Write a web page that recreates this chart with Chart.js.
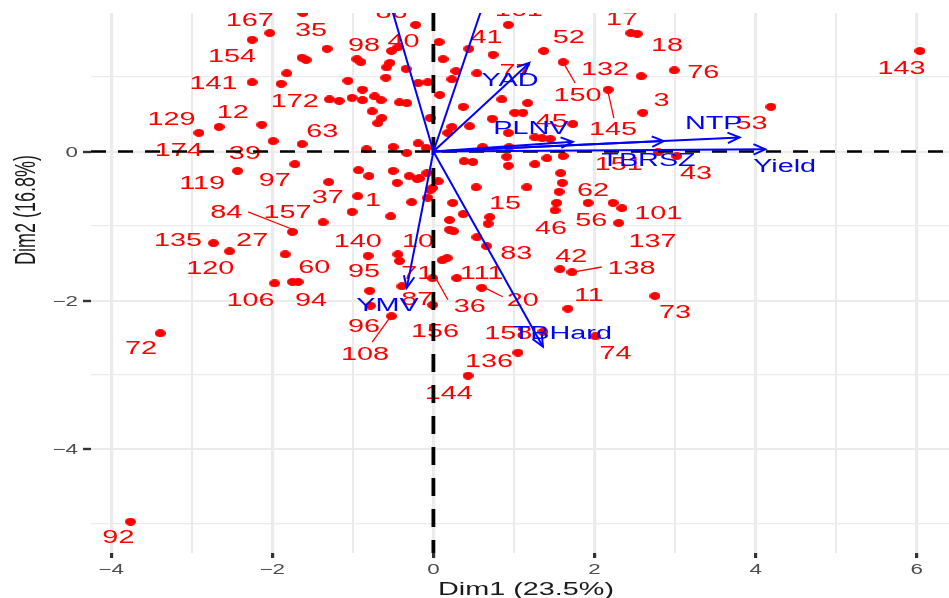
<!DOCTYPE html>
<html>
<head>
<meta charset="utf-8">
<script src="https://cdn.jsdelivr.net/npm/chart.js@4.4.0/dist/chart.umd.min.js"></script>
<style>
html,body{margin:0;padding:0;background:#fff;}
#wrap{width:949px;height:598px;position:relative;}
</style>
</head>
<body>
<div id="wrap"><canvas id="c"></canvas></div>
<script>
// ---------------- DATA ----------------
const pointDim1 = [-1.62,-2.03,-2.25,-1.32,-1.63,-1.58,-1.82,-2.25,-1.89,-1.29,-1.17,-2.91,-2.66,-2.13,-1.99,-1.63,-2.43,-1.72,
  -0.22,0.93,0.07,0.44,0.12,0.74,1.37,1.61,-0.52,-0.44,-0.95,-0.90,-0.54,-0.58,-0.34,0.28,0.54,-1.06,-0.59,-0.19,-0.07,0.23,0.08,
  -1.01,-0.88,-0.88,-0.73,-0.65,-0.76,-0.42,-0.33,-0.64,-0.69,-0.04,0.37,0.23,0.45,0.85,1.17,1.01,1.11,0.73,0.93,1.26,1.35,1.45,
  1.73,2.17,2.60,0.18,0.61,0.94,1.41,1.61,0.38,0.49,0.91,0.93,1.26,1.58,1.60,1.56,1.53,1.51,1.16,0.53,1.92,2.23,2.34,2.30,0.24,
  0.37,0.70,0.68,0.20,0.20,0.25,0.54,-0.08,0.06,-0.04,-0.07,-0.17,-0.83,-0.50,-0.33,-0.19,-0.09,-0.93,-0.80,-0.50,-0.45,-0.30,
  -0.20,-1.30,-0.94,-1.01,-1.37,-0.53,-0.27,-1.75,-2.73,-2.53,-1.84,-1.97,-1.75,-1.68,-0.81,-0.44,-0.42,-0.79,-0.39,-0.52,-0.01,
  -0.01,-0.78,0.11,0.17,0.29,0.60,0.66,1.57,1.72,1.67,1.36,2.01,1.05,0.43,-3.76,-3.39,2.45,2.53,2.58,2.99,4.19,6.04,3.02,2.79,
  2.75,-0.01];
const pointDim2 = [1.86,1.59,1.50,1.38,1.26,1.23,1.05,0.93,0.91,0.70,0.68,0.25,0.33,0.36,0.14,0.10,-0.26,-0.17,
  1.70,1.70,1.47,1.38,1.24,1.30,1.35,1.20,1.35,1.40,1.24,1.20,1.19,1.13,1.11,1.08,1.05,0.95,0.99,0.92,0.93,0.97,0.76,
  0.72,0.83,0.69,0.74,0.69,0.54,0.66,0.65,0.45,0.38,0.45,0.60,0.33,0.34,0.70,0.65,0.52,0.52,0.44,0.25,0.19,0.18,0.17,
  0.37,0.83,0.52,0.25,0.06,0.06,-0.09,-0.06,-0.13,-0.14,-0.07,-0.19,-0.17,-0.29,-0.42,-0.54,-0.69,-0.79,-0.48,-0.48,-0.69,-0.69,-0.76,-0.96,-0.69,
  -0.84,-0.88,-0.97,-0.92,-1.05,-1.07,-1.15,-0.29,-0.40,-0.52,-0.62,-0.36,0.03,0.06,-0.02,0.11,0.05,-0.25,-0.33,-0.26,-0.42,-0.33,
  -0.37,-0.41,-0.60,-0.81,-0.95,-0.87,-0.68,-1.08,-1.23,-1.34,-1.38,-1.77,-1.75,-1.75,-1.40,-1.38,-1.47,-1.87,-1.81,-2.21,-1.70,
  -2.06,-2.07,-1.46,-1.43,-1.70,-1.83,-1.27,-1.58,-1.62,-2.11,-2.42,-2.48,-2.70,-3.01,-4.97,-2.44,1.59,1.58,1.01,1.09,0.60,1.35,-0.06,-0.01,
  -1.94,-0.49];

const labelNames = ["167","35","154","141","172","129","12","174","39","63","119","97","37","1","84","157","135","27","120","60",
  "106","94","140","95","10","71","87","96","108","156","36","111","20","15","83","46","56","62","42","138","11","101","137","73",
  "74","158","136","144","92","72","143","53","43","151","3","76","18","17","132","52","150","145","45","77","41","40","98","86","161"];
const labelDim1 = [-2.28,-1.52,-2.50,-2.73,-1.72,-3.25,-2.49,-3.16,-2.34,-1.38,-2.87,-1.97,-1.31,-0.75,-2.57,-1.81,-3.17,-2.25,-2.77,-1.48,
  -2.27,-1.52,-0.94,-0.86,-0.19,-0.20,-0.20,-0.86,-0.85,0.02,0.45,0.60,1.11,0.89,1.03,1.46,1.96,1.98,1.71,2.46,1.93,2.79,2.72,3.00,
  2.26,0.93,0.69,0.19,-3.91,-3.63,5.81,3.95,3.26,2.30,2.83,3.35,2.90,2.34,2.13,1.68,1.79,2.23,1.47,1.02,0.66,-0.37,-0.86,-0.52,1.06];
const labelDim2 = [1.77,1.64,1.29,0.93,0.68,0.44,0.54,0.03,-0.01,0.28,-0.42,-0.38,-0.60,-0.65,-0.81,-0.81,-1.18,-1.18,-1.56,-1.55,
  -1.99,-1.99,-1.19,-1.60,-1.19,-1.62,-1.98,-2.34,-2.71,-2.40,-2.07,-1.62,-1.99,-0.68,-1.36,-1.02,-0.91,-0.51,-1.40,-1.56,-1.92,-0.82,-1.19,-2.15,
  -2.70,-2.43,-2.81,-3.23,-5.17,-2.63,1.13,0.39,-0.28,-0.16,0.70,1.08,1.44,1.78,1.11,1.55,0.77,0.31,0.41,1.09,1.55,1.49,1.44,1.88,1.90];

// leader segments from a label to its point
const leaderFromDim1 = [-2.30, 1.63, 2.17, 0.04, 0.64, -0.54, 1.73];
const leaderFromDim2 = [-0.81, 1.16, 0.79, -1.72, -1.83, -2.23, -1.62];
const leaderToDim1   = [-1.76, 1.76, 2.24, 0.18, 0.86, -0.76, 2.09];
const leaderToDim2   = [-1.04, 0.92, 0.45, -1.99, -1.95, -2.56, -1.55];

const variableNames = ["Yield","NTP","TBRSZ","PLNV","YAD","YMV","TBHard","",""];
const variableDim1 = [4.12, 3.80, 2.86, 1.73, 1.19, -0.33, 1.36, 0.72, -0.62];
const variableDim2 = [0.03, 0.19, 0.14, 0.13, 1.19, -1.83, -2.62, 2.30, 2.30];
const variableLabelDim1 = [4.36, 3.48, 2.67, 1.21, 0.95, -0.57, 1.60, null, null];
const variableLabelDim2 = [-0.19, 0.39, -0.11, 0.32, 0.96, -2.05, -2.43, null, null];

const xTickValues = [-4, -2, 0, 2, 4, 6];
const yTickValues = [-4, -2, 0];
const xAxisTitle = "Dim1 (23.5%)";
const yAxisTitle = "Dim2 (16.8%)";

// ---------------- STYLE ----------------
const SX = 1.6;              // horizontal stretch of text in the reference
const FONT = '"Liberation Sans", Arial, sans-serif';
const RED = '#FF0000', BLUE = '#0000FF';

function makeDot() {
  const c = document.createElement('canvas');
  c.width = 11; c.height = 8;
  const g = c.getContext('2d');
  g.fillStyle = RED;
  g.beginPath(); g.ellipse(5.5, 4, 5.5, 4, 0, 0, Math.PI * 2); g.fill();
  return c;
}

function stretchedText(ctx, text, x, y, size, color, align) {
  ctx.save();
  ctx.translate(x, y);
  ctx.scale(SX, 1);
  ctx.font = size + 'px ' + FONT;
  ctx.fillStyle = color;
  ctx.textAlign = align;
  ctx.textBaseline = 'alphabetic';
  ctx.fillText(text, 0, size * 0.716 / 2);
  ctx.restore();
}

function clipArea(ctx, ca) {
  ctx.beginPath(); ctx.rect(ca.left, ca.top, ca.right - ca.left, ca.bottom - ca.top); ctx.clip();
}

const biplot = {
  id: 'biplot',
  afterDatasetDraw(chart, args) {
    if (args.index !== 0) return;
    const ctx = chart.ctx, xs = chart.scales.x, ys = chart.scales.y, ca = chart.chartArea;
    ctx.save();
    clipArea(ctx, ca);
    // leader segments
    ctx.strokeStyle = RED; ctx.lineWidth = 1.3;
    for (let i = 0; i < leaderFromDim1.length; i++) {
      ctx.beginPath();
      ctx.moveTo(xs.getPixelForValue(leaderFromDim1[i]), ys.getPixelForValue(leaderFromDim2[i]));
      ctx.lineTo(xs.getPixelForValue(leaderToDim1[i]), ys.getPixelForValue(leaderToDim2[i]));
      ctx.stroke();
    }
    // individual labels
    for (let i = 0; i < labelNames.length; i++) {
      stretchedText(ctx, labelNames[i], xs.getPixelForValue(labelDim1[i]), ys.getPixelForValue(labelDim2[i]), 18, RED, 'center');
    }
    // dashed zero lines
    ctx.strokeStyle = '#000';
    const x0 = xs.getPixelForValue(0), y0 = ys.getPixelForValue(0);
    ctx.lineWidth = 2.6; ctx.setLineDash([15, 12]);
    ctx.beginPath(); ctx.moveTo(ca.left, y0); ctx.lineTo(ca.right, y0); ctx.stroke();
    ctx.lineWidth = 3.8; ctx.setLineDash([18, 13]);
    ctx.beginPath(); ctx.moveTo(x0, ca.top); ctx.lineTo(x0, ca.bottom); ctx.stroke();
    ctx.restore();
  },
  afterDatasetsDraw(chart) {
    const ctx = chart.ctx, xs = chart.scales.x, ys = chart.scales.y, ca = chart.chartArea;
    ctx.save();
    clipArea(ctx, ca);
    ctx.strokeStyle = BLUE; ctx.lineWidth = 2; ctx.setLineDash([]);
    const ox = xs.getPixelForValue(0), oy = ys.getPixelForValue(0);
    for (let i = 0; i < variableNames.length; i++) {
      const tx = xs.getPixelForValue(variableDim1[i]), ty = ys.getPixelForValue(variableDim2[i]);
      const a = Math.atan2(ty - oy, tx - ox), L = 13, w = 0.42;
      ctx.beginPath();
      ctx.moveTo(tx - L * Math.cos(a - w), ty - L * Math.sin(a - w));
      ctx.lineTo(tx, ty);
      ctx.lineTo(tx - L * Math.cos(a + w), ty - L * Math.sin(a + w));
      ctx.stroke();
    }
    for (let i = 0; i < variableNames.length; i++) {
      if (variableLabelDim1[i] === null || !variableNames[i]) continue;
      stretchedText(ctx, variableNames[i], xs.getPixelForValue(variableLabelDim1[i]), ys.getPixelForValue(variableLabelDim2[i]), 18, BLUE, 'center');
    }
    ctx.restore();
  },
  afterDraw(chart) {
    const ctx = chart.ctx, xs = chart.scales.x, ys = chart.scales.y, ca = chart.chartArea;
    const fmt = v => (v < 0 ? '\u2212' + Math.abs(v) : String(v));
    xTickValues.forEach(v => stretchedText(ctx, fmt(v), xs.getPixelForValue(v), ca.bottom + 15.5, 14, '#4D4D4D', 'center'));
    yTickValues.forEach(v => stretchedText(ctx, fmt(v), ca.left - 13, ys.getPixelForValue(v), 14, '#4D4D4D', 'right'));
    stretchedText(ctx, xAxisTitle, (ca.left + ca.right) / 2 + 6, 588.5, 18, '#1A1A1A', 'center');
    // rotated y title
    ctx.save();
    ctx.translate(25, 210);
    ctx.scale(SX, 1);
    ctx.rotate(-Math.PI / 2);
    ctx.font = '18px ' + FONT;
    ctx.fillStyle = '#1A1A1A';
    ctx.textAlign = 'center';
    ctx.textBaseline = 'alphabetic';
    ctx.fillText(yAxisTitle, 0, 18 * 0.716 / 2);
    ctx.restore();
  }
};

const isEven = v => Math.abs(Math.round(v)) % 2 === 0;
const intTicks = (a, b) => { const t = []; for (let v = a; v <= b; v++) t.push({ value: v }); return t; };

const datasets = [{
  type: 'scatter',
  label: 'individuals',
  data: pointDim1.map((x, i) => ({ x: x, y: pointDim2[i] })),
  pointStyle: makeDot(),
  pointRadius: 5,
  pointHoverRadius: 5,
  clip: 0,
  order: 10
}];
variableNames.forEach((n, i) => {
  datasets.push({
    type: 'line',
    label: n || ('var' + i),
    data: [{ x: 0, y: 0 }, { x: variableDim1[i], y: variableDim2[i] }],
    borderColor: BLUE,
    borderWidth: 2,
    pointRadius: 0,
    fill: false,
    clip: 0,
    order: 1
  });
});

new Chart(document.getElementById('c'), {
  data: { datasets: datasets },
  options: {
    responsive: true,
    maintainAspectRatio: false,
    devicePixelRatio: 1,
    animation: false,
    layout: { padding: { top: 13, left: 0, right: 0, bottom: 0 }, autoPadding: false },
    plugins: { legend: { display: false }, tooltip: { enabled: false } },
    scales: {
      x: {
        type: 'linear', position: 'bottom', min: -4.25, max: 6.40, bounds: 'data',
        afterBuildTicks: s => { s.ticks = intTicks(-4, 6); },
        afterFit: s => { s.height = 45; },
        ticks: { display: false },
        border: { display: false },
        grid: {
          color: '#EBEBEB',
          lineWidth: c => (c.tick && isEven(c.tick.value) ? 3.2 : 2),
          tickColor: c => (c.tick && isEven(c.tick.value) ? '#333333' : 'rgba(0,0,0,0)'),
          tickWidth: 3.2,
          tickLength: 5,
          drawTicks: true
        }
      },
      y: {
        type: 'linear', position: 'left', min: -5.39, max: 1.86, bounds: 'data',
        afterBuildTicks: s => { s.ticks = intTicks(-5, 1); },
        afterFit: s => { s.width = 91; },
        ticks: { display: false },
        border: { display: false },
        grid: {
          color: '#EBEBEB',
          lineWidth: c => (c.tick && isEven(c.tick.value) ? 2 : 1.3),
          tickColor: c => (c.tick && isEven(c.tick.value) ? '#333333' : 'rgba(0,0,0,0)'),
          tickWidth: 2.4,
          tickLength: 8,
          drawTicks: true
        }
      }
    }
  },
  plugins: [biplot]
});
</script>
</body>
</html>
